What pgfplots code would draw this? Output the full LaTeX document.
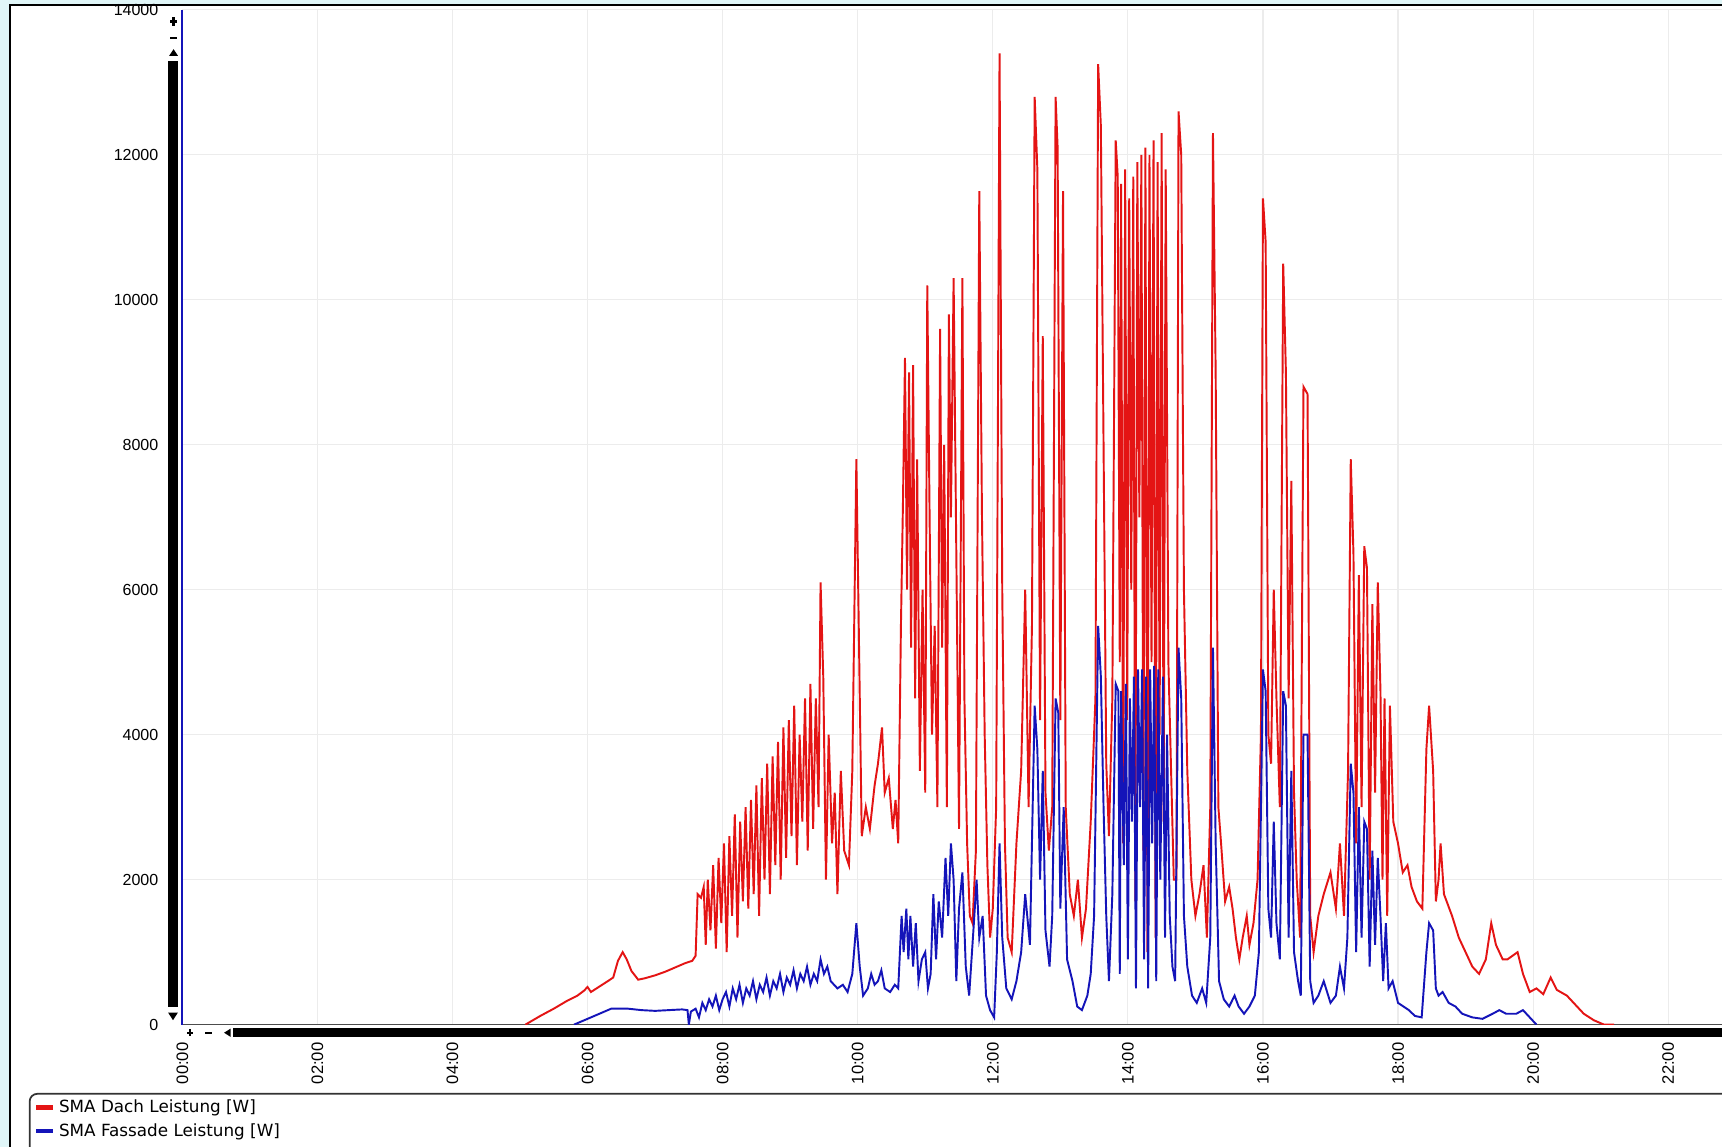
\documentclass[border=0pt]{standalone}
\usepackage{fontspec}
\setmainfont{Liberation Sans}
\newfontfamily\legfont{DejaVu Sans}
\usepackage{pgfplots}
\pgfplotsset{compat=1.18}
\definecolor{dachred}{RGB}{228,20,20}
\definecolor{fassblue}{RGB}{20,20,185}
\definecolor{gridgray}{RGB}{236,236,236}
\definecolor{edgecyan}{RGB}{224,246,248}

\begin{document}
\begin{tikzpicture}
% frame of the screenshot, in screen pixels (origin bottom left)
\begin{scope}[x=0.02cm,y=0.02cm]
\fill[edgecyan] (0,0) rectangle (1568,1044);
\fill[white] (9,0) rectangle (1568,1039.5);
\draw[black, line width=1.1pt] (9,0) -- (9,1039.5) -- (1568,1039.5);
\draw[black!80, line width=0.9pt, rounded corners=0.14cm] (27,-5) -- (27,48) -- (1580,48);
% y scroll bar
\fill[black] (153,127) rectangle (162,988);
\fill[black] (154,993) -- (162,993) -- (158,999) -- cycle;
\fill[black] (155,1008) rectangle (161,1010.5);
\fill[black] (155,1023) rectangle (161,1025.5);
\fill[black] (156.8,1020.5) rectangle (159.2,1028);
\fill[black] (153,122) -- (162,122) -- (157.5,115) -- cycle;
% x scroll bar
\fill[black] (212,99.5) rectangle (1568,108);
\fill[black] (170,102.6) rectangle (176,104.6);
\fill[black] (172,100.5) rectangle (174,106.7);
\fill[black] (187,102.6) rectangle (193,104.6);
\fill[black] (204,103.6) -- (210,99.8) -- (210,107.4) -- cycle;
\end{scope}

\begin{axis}[
  at={(3.32cm,2.22cm)}, anchor=south west,
  scale only axis, width=28.04cm, height=18.48cm,
  xmin=0, xmax=22.797, ymin=0, ymax=14000,
  scaled y ticks=false, scaled x ticks=false,
  axis x line*=bottom, axis y line*=left,
  x axis line style={draw=black!70, line width=0.6pt},
  y axis line style={draw=fassblue, line width=1.1pt},
  xtick={0,2,...,22},
  xticklabels={00:00,02:00,04:00,06:00,08:00,10:00,12:00,14:00,16:00,18:00,20:00,22:00},
  ytick={0,2000,4000,6000,8000,10000,12000,14000},
  yticklabels={0,2000,4000,6000,8000,10000,12000,14000},
  /pgf/number format/assume math mode=true,
  major tick length=0pt,
  grid=major, grid style={gridgray, line width=0.6pt},
  yticklabel style={font=\fontsize{8.3}{10}\selectfont, anchor=east, inner sep=0pt, xshift=-0.43cm},
  xticklabel style={font=\fontsize{8.6}{10}\selectfont, inner sep=0pt, yshift=-0.32cm, rotate=90, anchor=east},
  legend style={at={(-0.0966,-0.0735)}, anchor=north west, draw=none, fill=none,
    inner sep=0pt, row sep=0.15cm, font=\legfont\fontsize{8.7}{10}\selectfont,
    nodes={inner sep=0pt}},
  legend cell align=left,
  legend image code/.code={\draw[#1, line width=2.2pt] (0cm,0cm) -- (0.3cm,0cm);},
  /tikz/every odd column/.append style={column sep=0.08cm},
]
\addplot[dachred, line width=1pt] coordinates {
(5.08,0) (5.3,120) (5.5,220) (5.7,330) (5.85,400) (5.95,470) (6.0,520) (6.05,450)
(6.2,540) (6.3,600) (6.38,650) (6.45,880) (6.52,1000) (6.58,900) (6.65,740) (6.75,620)
(6.85,640) (7.0,680) (7.15,730) (7.3,790) (7.45,850) (7.55,880) (7.6,950) (7.63,1800)
(7.68,1750) (7.72,1900) (7.75,1100) (7.78,2000) (7.82,1300) (7.86,2200) (7.9,1050) (7.94,2300)
(7.98,1400) (8.02,2500) (8.06,1000) (8.1,2600) (8.14,1500) (8.18,2900) (8.22,1200) (8.26,2800)
(8.3,1700) (8.34,3000) (8.38,1600) (8.42,3100) (8.46,1800) (8.5,3300) (8.54,1500) (8.58,3400)
(8.62,2000) (8.66,3600) (8.7,1800) (8.74,3700) (8.78,2200) (8.82,3900) (8.86,2000) (8.9,4100)
(8.94,2300) (8.98,4200) (9.02,2600) (9.06,4400) (9.1,2200) (9.14,4000) (9.18,2800) (9.22,4500)
(9.26,2400) (9.3,4700) (9.34,2700) (9.38,4500) (9.42,3000) (9.45,6100) (9.49,4800) (9.53,2000)
(9.57,4000) (9.62,2500) (9.66,3200) (9.7,1800) (9.75,3500) (9.8,2400) (9.87,2200) (9.92,3500)
(9.98,7800) (10.02,5200) (10.06,2600) (10.12,3000) (10.18,2700) (10.25,3300) (10.3,3600) (10.36,4100)
(10.4,3200) (10.46,3400) (10.52,2700) (10.56,3100) (10.6,2500) (10.64,5500) (10.67,7200) (10.7,9200)
(10.73,6000) (10.76,9000) (10.79,5200) (10.82,9100) (10.85,4500) (10.88,7800) (10.92,3500) (10.96,6000)
(11.0,3200) (11.03,10200) (11.07,6500) (11.1,4000) (11.14,5500) (11.18,3000) (11.22,9600) (11.25,5200)
(11.28,8000) (11.32,3000) (11.35,9800) (11.38,7000) (11.42,10300) (11.46,6500) (11.5,2700) (11.55,10300)
(11.58,4500) (11.62,2500) (11.66,1500) (11.7,1400) (11.75,2400) (11.8,11500) (11.84,7000) (11.88,4000)
(11.92,2200) (11.96,1200) (12.0,1600) (12.05,3000) (12.1,13400) (12.14,6000) (12.18,2500) (12.22,1200)
(12.28,1000) (12.35,2500) (12.42,3500) (12.48,6000) (12.53,3000) (12.58,5500) (12.62,12800) (12.66,11800)
(12.7,4200) (12.74,9500) (12.78,3200) (12.83,2400) (12.88,3000) (12.93,12800) (12.96,12100) (13.0,4200)
(13.04,11500) (13.08,3000) (13.14,1800) (13.2,1500) (13.26,2000) (13.32,1200) (13.38,1600) (13.45,2800)
(13.52,4500) (13.56,13250) (13.6,12400) (13.64,8000) (13.68,3600) (13.72,2600) (13.77,4500) (13.82,12200)
(13.85,11700) (13.88,5000) (13.9,11600) (13.93,2500) (13.96,11800) (13.99,4200) (14.02,11400) (14.05,6000)
(14.08,11700) (14.11,1700) (14.14,11900) (14.17,7000) (14.2,12000) (14.23,2400) (14.26,12100) (14.29,1000)
(14.32,12000) (14.35,5000) (14.38,12200) (14.41,1200) (14.44,11900) (14.47,4000) (14.5,12300) (14.53,2800)
(14.56,11800) (14.6,5000) (14.64,3500) (14.68,2000) (14.72,2000) (14.75,12600) (14.79,12000) (14.83,6000)
(14.88,3500) (14.94,2000) (15.0,1500) (15.06,1800) (15.12,2200) (15.17,1200) (15.22,3000) (15.26,12300)
(15.3,9000) (15.34,3000) (15.38,2500) (15.44,1700) (15.5,1900) (15.55,1600) (15.6,1200) (15.65,900)
(15.7,1200) (15.76,1500) (15.8,1100) (15.86,1400) (15.92,2000) (15.97,4000) (16.0,11400) (16.04,10800)
(16.08,4000) (16.12,3600) (16.16,6000) (16.2,4500) (16.25,3000) (16.3,10500) (16.34,9000) (16.38,4500)
(16.42,7500) (16.46,3200) (16.5,2000) (16.55,1200) (16.6,8800) (16.66,8700) (16.7,1500) (16.75,1000)
(16.82,1500) (16.9,1800) (17.0,2100) (17.08,1600) (17.14,2500) (17.2,1500) (17.26,3500) (17.3,7800)
(17.34,6500) (17.38,2500) (17.42,6200) (17.46,3000) (17.5,6600) (17.54,6300) (17.58,2000) (17.62,5800)
(17.66,3200) (17.7,6100) (17.74,4600) (17.77,2000) (17.8,4500) (17.84,1500) (17.88,4400) (17.93,2800)
(18.0,2500) (18.07,2100) (18.14,2200) (18.2,1900) (18.28,1700) (18.36,1600) (18.42,3800) (18.46,4400)
(18.52,3500) (18.56,1700) (18.6,2000) (18.63,2500) (18.68,1800) (18.8,1500) (18.9,1200) (19.0,1000)
(19.1,800) (19.2,700) (19.3,900) (19.38,1400) (19.45,1100) (19.55,900) (19.62,900) (19.77,1000)
(19.85,700) (19.95,450) (20.05,500) (20.15,420) (20.26,650) (20.35,480) (20.5,400) (20.6,300)
(20.75,150) (20.9,60) (21.05,0) (21.2,0)
};
\addlegendentry{SMA Dach Leistung [W]}
\addplot[fassblue, line width=1pt] coordinates {
(5.8,0) (5.95,60) (6.1,120) (6.25,180) (6.35,220) (6.6,220) (6.8,200) (7.0,190)
(7.2,200) (7.4,210) (7.48,200) (7.5,0) (7.53,180) (7.6,220) (7.65,100) (7.7,300)
(7.75,200) (7.8,350) (7.85,250) (7.9,400) (7.95,200) (8.0,350) (8.05,450) (8.1,250)
(8.15,500) (8.2,350) (8.25,550) (8.3,300) (8.35,500) (8.4,400) (8.45,600) (8.5,350)
(8.55,550) (8.6,450) (8.65,650) (8.7,400) (8.75,600) (8.8,500) (8.85,700) (8.9,450)
(8.95,650) (9.0,550) (9.05,750) (9.1,500) (9.15,700) (9.2,600) (9.25,800) (9.3,550)
(9.35,700) (9.4,600) (9.45,900) (9.5,700) (9.55,800) (9.6,600) (9.65,550) (9.7,500)
(9.78,550) (9.85,450) (9.92,700) (9.98,1400) (10.03,800) (10.08,400) (10.15,500) (10.2,700)
(10.25,550) (10.3,600) (10.35,750) (10.4,500) (10.48,450) (10.55,550) (10.6,500) (10.65,1500)
(10.68,1000) (10.72,1600) (10.75,900) (10.78,1500) (10.82,800) (10.86,1400) (10.9,600) (10.95,900)
(11.0,1000) (11.04,500) (11.08,700) (11.12,1800) (11.16,900) (11.2,1700) (11.25,1200) (11.3,2300)
(11.34,1500) (11.38,2500) (11.42,2000) (11.46,600) (11.5,1600) (11.55,2100) (11.6,800) (11.65,400)
(11.72,1400) (11.76,2000) (11.8,1200) (11.85,1500) (11.9,400) (11.96,200) (12.02,100) (12.06,1000)
(12.1,2500) (12.14,1200) (12.2,500) (12.28,350) (12.35,600) (12.42,1000) (12.48,1800) (12.55,1100)
(12.62,4400) (12.66,3800) (12.7,2000) (12.74,3500) (12.78,1300) (12.84,800) (12.88,1500) (12.93,4500)
(12.97,4300) (13.0,1600) (13.05,3000) (13.1,900) (13.18,600) (13.25,250) (13.32,200) (13.4,400)
(13.45,700) (13.5,1500) (13.56,5500) (13.6,4800) (13.64,3000) (13.68,1500) (13.72,600) (13.77,1800)
(13.82,4700) (13.86,4600) (13.88,700) (13.9,4600) (13.94,2200) (13.97,4700) (14.0,900) (14.03,4500)
(14.06,2800) (14.09,4800) (14.12,500) (14.15,4900) (14.18,3000) (14.21,4900) (14.24,900) (14.27,4800)
(14.3,500) (14.33,4900) (14.36,2500) (14.39,4950) (14.42,600) (14.45,4900) (14.48,2000) (14.52,4800)
(14.55,1200) (14.58,4000) (14.62,1500) (14.66,800) (14.7,600) (14.75,5200) (14.79,4500) (14.83,1500)
(14.88,800) (14.95,400) (15.02,300) (15.1,500) (15.16,300) (15.22,1200) (15.26,5200) (15.3,2500)
(15.35,600) (15.42,350) (15.5,250) (15.58,400) (15.64,250) (15.72,150) (15.8,250) (15.88,400)
(15.94,1000) (16.0,4900) (16.04,4600) (16.08,1600) (16.12,1200) (16.16,2800) (16.2,1400) (16.25,900)
(16.3,4600) (16.34,4400) (16.38,1200) (16.42,3500) (16.46,1000) (16.52,600) (16.56,400) (16.6,4000)
(16.66,4000) (16.7,600) (16.75,300) (16.82,400) (16.9,600) (17.0,300) (17.08,400) (17.14,800)
(17.2,500) (17.25,1200) (17.3,3600) (17.34,3200) (17.38,1000) (17.42,3000) (17.46,1200) (17.5,2800)
(17.54,2700) (17.58,800) (17.62,2400) (17.66,1100) (17.7,2300) (17.74,1500) (17.78,600) (17.82,1400)
(17.86,500) (17.92,600) (18.0,300) (18.08,250) (18.16,200) (18.25,120) (18.35,100) (18.42,1000)
(18.46,1400) (18.52,1300) (18.56,500) (18.6,400) (18.66,450) (18.75,300) (18.85,250) (18.95,150)
(19.1,100) (19.25,80) (19.4,150) (19.5,200) (19.6,150) (19.75,150) (19.85,200) (19.95,100)
(20.05,0)
};
\addlegendentry{SMA Fassade Leistung [W]}
\end{axis}
\pgfresetboundingbox
\path[use as bounding box] (0,0) rectangle (31.36cm,20.88cm);
\end{tikzpicture}
\end{document}
